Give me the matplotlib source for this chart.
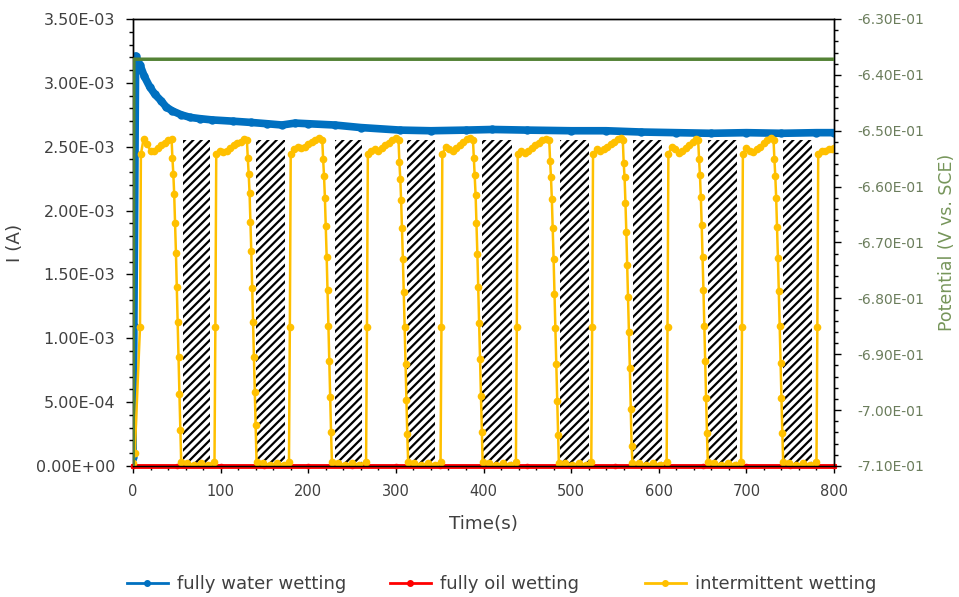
import matplotlib
matplotlib.use('Agg')
import matplotlib.pyplot as plt
from matplotlib.lines import Line2D
from matplotlib.ticker import MultipleLocator, FormatStrFormatter

plt.rcParams['font.family'] = ['DejaVu Sans']
plt.rcParams['hatch.linewidth'] = 1.6

# hatched (oil wetting) periods, s
hatch_start = [56.7, 140, 230.6, 312.8, 398.4, 487.4, 570.8, 656.4, 742.1]
hatch_end = [87.9, 173.5, 261.4, 344.7, 432.6, 520.5, 603.9, 689.5, 775.0]
hatch_top = [2.55e-3] * 9

# fully water wetting, current in 1e-3 A
t_water = [0, 1, 3, 8, 13, 19, 25, 32, 38, 45, 55, 65, 76, 90, 114, 135, 153, 170, 185, 200,
           230, 260, 305, 340, 380, 410, 450, 500, 540, 580, 620, 660, 700, 740, 780, 800]
i_water = [0.07, 1.10, 3.21, 3.14, 3.05, 2.97, 2.91, 2.86, 2.81, 2.78, 2.75, 2.73, 2.72, 2.71, 2.70, 2.69,
           2.68, 2.67, 2.685, 2.68, 2.67, 2.65, 2.63, 2.625, 2.63, 2.635, 2.63, 2.625, 2.625, 2.615, 2.61,
           2.605, 2.61, 2.605, 2.61, 2.61]

# fully oil wetting, current in 1e-3 A
t_oil = [0, 50, 100, 150, 200, 250, 300, 350, 400, 450, 500, 550, 600, 650, 700, 750, 800]
i_oil = [0.002] * 17

# intermittent wetting, current in 1e-3 A
t_int = [0, 2, 8, 9, 12, 16, 20, 24, 28, 32, 36, 40, 44, 45, 46, 47, 48, 49, 50, 51, 52, 53, 54, 55,
         62, 70, 78, 86, 93, 94, 95,
         99, 103, 107, 111, 115, 119, 123, 127, 130, 131, 132, 133, 134, 135, 136, 137, 138, 139, 140, 141,
         148, 156, 164, 172, 178, 179, 180,
         184, 188, 192, 196, 200, 204, 208, 212, 216, 217, 218, 219, 220, 221, 222, 223, 224, 225, 226, 227,
         234, 242, 250, 258, 266, 267, 268,
         272, 276, 280, 284, 288, 292, 296, 300, 303, 304, 305, 306, 307, 308, 309, 310, 311, 312, 313, 314,
         321, 329, 337, 345, 351, 352, 353,
         357, 361, 365, 369, 373, 377, 381, 385, 388, 389, 390, 391, 392, 393, 394, 395, 396, 397, 398, 399,
         406, 414, 422, 430, 437, 438, 439,
         443, 447, 451, 455, 459, 463, 467, 471, 475, 476, 477, 478, 479, 480, 481, 482, 483, 484, 485, 486,
         493, 501, 509, 517, 523, 524, 525,
         529, 533, 537, 541, 545, 549, 553, 557, 559, 560, 561, 562, 563, 564, 565, 566, 567, 568, 569, 570,
         577, 585, 593, 601, 609, 610, 611,
         615, 619, 623, 627, 631, 635, 639, 643, 645, 646, 647, 648, 649, 650, 651, 652, 653, 654, 655, 656,
         663, 671, 679, 687, 694, 695, 696,
         700, 704, 708, 712, 716, 720, 724, 728, 731, 732, 733, 734, 735, 736, 737, 738, 739, 740, 741, 742,
         749, 757, 765, 773, 780, 781, 782,
         786, 790, 794, 798, 800]
i_int = [0.02, 0.10, 1.09, 2.44, 2.56, 2.52, 2.47, 2.47, 2.49, 2.51, 2.53, 2.55, 2.56,
         2.41, 2.29, 2.13, 1.90, 1.67, 1.40, 1.13, 0.85, 0.56, 0.28, 0.03,
         0.02, 0.01, 0.02, 0.01, 0.03, 1.09, 2.44,
         2.47, 2.46, 2.47, 2.49, 2.51, 2.53, 2.54, 2.56, 2.55,
         2.41, 2.29, 2.14, 1.91, 1.68, 1.39, 1.13, 0.85, 0.58, 0.32, 0.03,
         0.02, 0.01, 0.02, 0.01, 0.03, 1.09, 2.44,
         2.48, 2.50, 2.49, 2.50, 2.52, 2.54, 2.55, 2.57, 2.55,
         2.40, 2.27, 2.10, 1.88, 1.64, 1.38, 1.10, 0.82, 0.54, 0.27, 0.03,
         0.02, 0.01, 0.02, 0.01, 0.03, 1.09, 2.44,
         2.47, 2.48, 2.47, 2.49, 2.51, 2.53, 2.55, 2.57, 2.55,
         2.38, 2.25, 2.08, 1.86, 1.62, 1.36, 1.09, 0.80, 0.52, 0.25, 0.03,
         0.02, 0.01, 0.02, 0.01, 0.03, 1.09, 2.44,
         2.50, 2.48, 2.47, 2.49, 2.51, 2.54, 2.56, 2.57, 2.55,
         2.41, 2.28, 2.12, 1.90, 1.66, 1.40, 1.12, 0.84, 0.55, 0.27, 0.03,
         0.02, 0.01, 0.02, 0.01, 0.03, 1.09, 2.44,
         2.47, 2.45, 2.47, 2.49, 2.51, 2.53, 2.55, 2.56, 2.55,
         2.39, 2.26, 2.09, 1.86, 1.62, 1.35, 1.08, 0.80, 0.51, 0.24, 0.02,
         0.02, 0.01, 0.02, 0.01, 0.03, 1.09, 2.44,
         2.48, 2.47, 2.48, 2.50, 2.52, 2.54, 2.56, 2.57, 2.55,
         2.37, 2.26, 2.06, 1.83, 1.57, 1.32, 1.05, 0.77, 0.45, 0.16, 0.02,
         0.02, 0.01, 0.02, 0.01, 0.03, 1.09, 2.44,
         2.50, 2.48, 2.45, 2.47, 2.49, 2.51, 2.54, 2.56, 2.55,
         2.40, 2.28, 2.11, 1.89, 1.64, 1.38, 1.10, 0.82, 0.53, 0.26, 0.03,
         0.02, 0.01, 0.02, 0.01, 0.03, 1.09, 2.44,
         2.49, 2.47, 2.46, 2.48, 2.50, 2.53, 2.55, 2.57, 2.55,
         2.40, 2.27, 2.10, 1.87, 1.63, 1.37, 1.10, 0.81, 0.53, 0.26, 0.03,
         0.02, 0.01, 0.02, 0.01, 0.03, 1.09, 2.44,
         2.47, 2.47, 2.48, 2.48, 2.49]

# potential (V vs. SCE), first point is below the axis range
t_pot = [0, 1, 100, 200, 300, 400, 500, 600, 700, 800]
pot = [-0.72, -0.6372, -0.6372, -0.6372, -0.6372, -0.6372, -0.6372, -0.6372, -0.6372, -0.6372]

names = ['fully water wetting', 'fully oil wetting', 'intermittent wetting']
colors = ['#0070C0', '#FF0000', '#FFC000']

txt = '#404040'
fig = plt.figure(figsize=(9.59, 5.97), dpi=100)
ax = fig.add_axes([133 / 959, 1 - 466 / 597, 701 / 959, 447 / 597])

ax.bar(hatch_start, hatch_top, width=[e - s for s, e in zip(hatch_start, hatch_end)], align='edge',
       color='white', edgecolor='black', linewidth=0, hatch='////', zorder=1)
ax.plot(t_water, [v * 1e-3 for v in i_water], color=colors[0], lw=5.5, marker='o', ms=5, zorder=3)
ax.plot(t_oil, [v * 1e-3 for v in i_oil], color=colors[1], lw=3.5, marker='o', ms=3, zorder=4,
        clip_on=False)
ax.plot(t_int, [v * 1e-3 for v in i_int], color=colors[2], lw=1.8, marker='o', ms=4.5, zorder=5)

ax.set_xlim(0, 800)
ax.set_ylim(0, 3.5e-3)
ax.xaxis.set_major_locator(MultipleLocator(100))
ax.xaxis.set_minor_locator(MultipleLocator(20))
ax.yaxis.set_major_locator(MultipleLocator(0.5e-3))
ax.yaxis.set_minor_locator(MultipleLocator(0.1e-3))
ax.yaxis.set_major_formatter(FormatStrFormatter('%.2E'))
ax.tick_params(axis='both', which='major', direction='out', length=5, width=1, colors='black',
               labelcolor=txt)
ax.tick_params(axis='both', which='minor', direction='out', length=3, width=1, colors='black')
ax.tick_params(axis='y', labelsize=11.5, pad=8)
ax.tick_params(axis='x', labelsize=10.5, pad=8)
ax.set_xlabel('Time(s)', fontsize=13.2, color=txt)
ax.xaxis.set_label_coords(0.5, -0.11)
ax.set_ylabel('I (A)', fontsize=13.2, color=txt)
ax.yaxis.set_label_coords(-0.155, 0.5)

ax2 = ax.twinx()
ax2.plot(t_pot, pot, color='#548235', lw=2.5, zorder=6)
ax2.set_ylim(-0.71, -0.63)
ax2.yaxis.set_major_locator(MultipleLocator(0.01))
ax2.yaxis.set_minor_locator(MultipleLocator(0.002))
ax2.yaxis.set_major_formatter(FormatStrFormatter('%.2E'))
ax2.tick_params(axis='y', which='major', direction='out', length=5, width=1, colors='black',
                labelcolor='#6b7d5c', labelsize=10, pad=12)
ax2.tick_params(axis='y', which='minor', direction='out', length=3, width=1, colors='black')
ax2.set_ylabel('Potential (V vs. SCE)', fontsize=12.5, color='#76955A')
ax2.yaxis.set_label_coords(1.148, 0.5)

for a in (ax, ax2):
    for s in a.spines.values():
        s.set_color('black')
        s.set_linewidth(1)

# legend entries placed one by one along the bottom
leg_x = [127, 390, 645]
for name, c, x in zip(names, colors, leg_x):
    h = Line2D([], [], color=c, lw=2, marker='o', ms=4)
    fig.legend(handles=[h], labels=[name], loc='center left', bbox_to_anchor=(x / 959, 1 - 584 / 597),
               frameon=False, fontsize=13, handlelength=2.25, handletextpad=0.5, borderpad=0,
               borderaxespad=0, labelcolor=txt)

fig.savefig('out.png', dpi=100)
